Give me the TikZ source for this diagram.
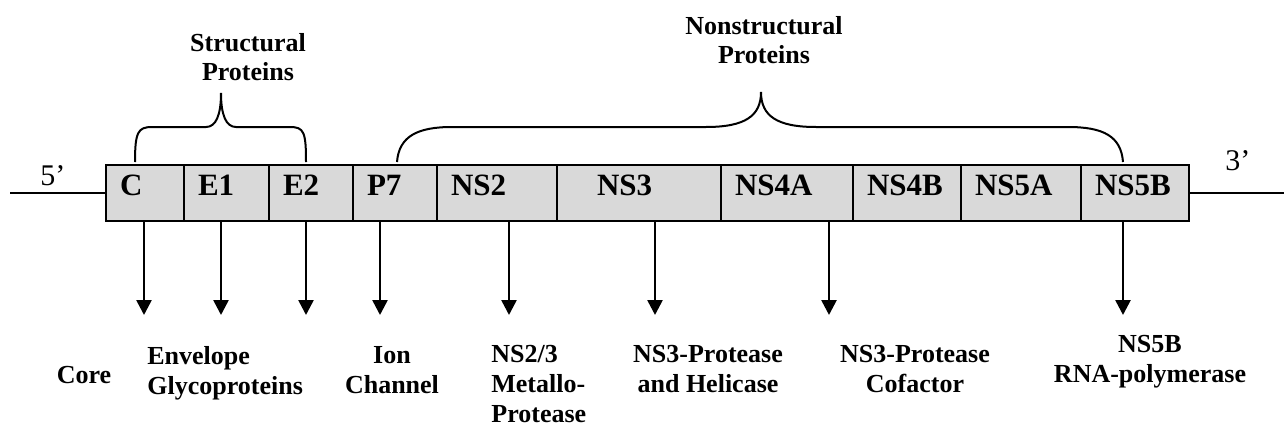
\documentclass[tikz,border=0pt]{standalone}
\usepackage{fontspec}
\setmainfont{Liberation Serif}
\usepackage{tikz}
\usetikzlibrary{arrows.meta}
\usetikzlibrary{positioning}
\definecolor{segfill}{HTML}{D9D9D9}

\begin{document}
\begin{tikzpicture}[x=0.5pt,y=-0.5pt,
  seg/.style={draw,fill=segfill,line width=1.3pt,outer sep=0pt,inner xsep=7pt,inner ysep=0pt,text width=#1,align=left,minimum height=28pt,text height=10pt,text depth=8pt,font=\bfseries\fontsize{15.5}{18}\selectfont},
  role/.style={inner sep=0pt,font=\bfseries\fontsize{13}{15}\selectfont},
  group/.style={inner sep=0pt,align=center,font=\bfseries\fontsize{13}{14.5}\selectfont},
  prime/.style={inner sep=0pt,font=\fontsize{15}{18}\selectfont},
  cut/.style={line width=1.3pt,-{Triangle[length=7.5pt,width=7.5pt]}},
  brace/.style={line width=1pt}]
\useasboundingbox (0,0) rectangle (1284,428);
\node (sC) [seg=25pt,anchor=north west] at (106,165) {C};
\node (sE1) [seg=28.5pt,right=0pt of sC] {E1};
\node (sE2) [seg=28pt,right=0pt of sE1] {E2};
\node (sP7) [seg=28pt,right=0pt of sE2] {P7};
\node (sNS2) [seg=46pt,right=0pt of sP7] {NS2};
\node (sNS3) [seg=68pt,right=0pt of sNS2] {\hspace*{13pt}NS3};
\node (sNS4A) [seg=52pt,right=0pt of sNS3] {NS4A};
\node (sNS4B) [seg=40pt,right=0pt of sNS4A] {NS4B};
\node (sNS5A) [seg=46pt,right=0pt of sNS4B] {NS5A};
\node (sNS5B) [seg=40pt,right=0pt of sNS5A] {NS5B};
\coordinate (e5) at (10,193);
\coordinate (e3) at (1284,193);
\draw[line width=1pt] (e5) -- (sC.west);
\draw[line width=1pt] (sNS5B.east) -- (e3);
\node (p5) [prime,anchor=base west] at (40,185) {5’};
\node (p3) [prime,anchor=base west] at (1225,170) {3’};
\draw[brace] (135,162) .. controls (135,132) and (138,127) .. (152,127) -- (206,127) .. controls (216,127) and (221,115) .. (221,93) .. controls (221,115) and (226,127) .. (236,127) -- (290,127) .. controls (304,127) and (306,132) .. (306,162);
\draw[brace] (397,162) .. controls (399,136) and (418,127) .. (452,127) -- (706,127) .. controls (745,127) and (761,116) .. (761,92) .. controls (761,116) and (777,127) .. (816,127) -- (1068,127) .. controls (1103,127) and (1121,136) .. (1123,162);
\node (gStruct) [group,anchor=north] at (248,33) {Structural\\Proteins};
\node (gNonstruct) [group,anchor=north] at (764,16) {Nonstructural\\Proteins};
\coordinate (tC) at (144,315);
\coordinate (tE1) at (221,315);
\coordinate (tE2) at (306,315);
\coordinate (tP7) at (380,315);
\coordinate (tNS2) at (509,315);
\coordinate (tNS3) at (655,315);
\coordinate (tNS4A) at (829,315);
\coordinate (tNS5B) at (1123,315);
\draw[cut] (sC.south -| tC) -- (tC);
\draw[cut] (sE1.south -| tE1) -- (tE1);
\draw[cut] (sE2.south -| tE2) -- (tE2);
\draw[cut] (sP7.south -| tP7) -- (tP7);
\draw[cut] (sNS2.south -| tNS2) -- (tNS2);
\draw[cut] (sNS3.south -| tNS3) -- (tNS3);
\draw[cut] (sNS4A.south -| tNS4A) -- (tNS4A);
\draw[cut] (sNS5B.south -| tNS5B) -- (tNS5B);
\node (rCore) [role,anchor=base] at (84,383) {Core};
\node (rEnv) [role,align=left,anchor=north west] at (147,346) {Envelope\\Glycoproteins};
\node (rIon) [role,align=center,anchor=north] at (392,346) {Ion\\Channel};
\node (rMet) [role,align=left,anchor=north west] at (491,345) {NS2/3\\Metallo-\\Protease};
\node (rHel) [role,align=center,anchor=north] at (708,345) {NS3-Protease\\and Helicase};
\node (rCof) [role,align=center,anchor=north] at (915,345) {NS3-Protease\\Cofactor};
\node (rPol) [role,align=center,anchor=north] at (1150,335) {NS5B\\RNA-polymerase};
\end{tikzpicture}
\end{document}
